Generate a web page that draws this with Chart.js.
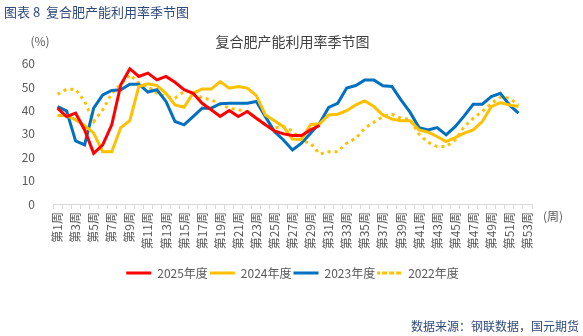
<!DOCTYPE html>
<html>
<head>
<meta charset="utf-8">
<script src="https://cdn.jsdelivr.net/npm/chart.js@4"></script>
<style>
  body { margin: 0; background: #fff; }
  .wrap { position: relative; width: 583px; height: 336px; }
  .head { position: absolute; left: 4px; top: 2px; font: 13px "Noto Sans CJK SC", sans-serif; color: #2E4A7D; }
  .src { position: absolute; right: 4px; top: 317px; font: 12px "Noto Sans CJK SC", sans-serif; color: #2E4A7D; }
  canvas { position: absolute; left: 0; top: 0; }
</style>
</head>
<body>
<div class="wrap">
  <canvas id="chart" width="583" height="336"></canvas>
  <div class="head">图表 8&nbsp;&nbsp;复合肥产能利用率季节图</div>
  <div class="src">数据来源：钢联数据，国元期货</div>
</div>
<script>
const weeks = [
  '第1周', '第2周', '第3周', '第4周', '第5周', '第6周', '第7周', '第8周', '第9周', '第10周',
  '第11周', '第12周', '第13周', '第14周', '第15周', '第16周', '第17周', '第18周', '第19周', '第20周',
  '第21周', '第22周', '第23周', '第24周', '第25周', '第26周', '第27周', '第28周', '第29周', '第30周',
  '第31周', '第32周', '第33周', '第34周', '第35周', '第36周', '第37周', '第38周', '第39周', '第40周',
  '第41周', '第42周', '第43周', '第44周', '第45周', '第46周', '第47周', '第48周', '第49周', '第50周',
  '第51周', '第52周', '第53周'
];

const yr2025 = [
  41.0, 37.4, 38.9, 31.7, 21.7, 25.3, 33.9, 51.0, 57.9, 54.6,
  56.0, 53.1, 54.6, 52.1, 48.9, 47.4, 43.1, 40.3, 37.5, 40.0,
  37.4, 39.6, 36.7, 33.9, 31.3, 30.0, 29.3, 29.3, 31.7, 33.6
];
const yr2024 = [
  37.9, 37.9, 36.0, 33.6, 30.3, 22.4, 22.4, 32.7, 35.7, 50.3,
  51.4, 50.7, 47.4, 42.4, 41.4, 47.4, 49.2, 49.2, 52.4, 49.6,
  50.3, 49.6, 46.4, 38.1, 35.6, 33.1, 27.7, 27.7, 33.9, 34.3,
  38.1, 38.4, 39.9, 42.4, 44.1, 41.7, 38.1, 36.3, 35.6, 35.6,
  31.7, 30.7, 28.9, 26.7, 28.4, 30.3, 31.7, 35.3, 41.7, 43.4,
  42.4, 41.7
];
const yr2023 = [
  41.7, 39.9, 27.0, 25.3, 41.0, 46.7, 48.6, 48.9, 51.3, 51.3,
  47.9, 48.9, 43.9, 35.3, 33.9, 37.4, 41.0, 41.0, 42.9, 43.1,
  43.1, 43.1, 43.9, 37.4, 31.0, 27.4, 23.1, 26.0, 30.3, 34.6,
  41.3, 43.1, 49.6, 50.7, 53.1, 53.1, 50.6, 50.3, 44.6, 39.3,
  32.7, 31.7, 32.7, 29.6, 33.1, 37.7, 42.7, 42.7, 46.0, 47.4,
  42.4, 38.9
];
const yr2022 = [
  47.0, 49.1, 49.1, 43.9, 35.3, 40.3, 47.4, 51.3, 55.3, 51.7,
  50.3, 47.4, 46.0, 45.3, 48.1, 48.1, 45.3, 44.6, 42.7, 41.0,
  40.3, 39.6, 36.7, 33.9, 32.7, 33.1, 31.3, 27.0, 26.0, 21.4,
  22.4, 22.4, 26.0, 28.1, 32.4, 35.0, 37.4, 38.4, 36.7, 36.3,
  29.9, 26.4, 24.6, 24.6, 27.4, 33.1, 36.7, 39.6, 43.1, 45.6,
  45.3, 42.4
];

const yTicks = [0, 10, 20, 30, 40, 50, 60];

Chart.defaults.font.family = '"Noto Sans CJK SC", "Noto Sans", sans-serif';
Chart.defaults.color = '#595959';

// unit captions next to the axes
const unitLabels = {
  id: 'unitLabels',
  afterDraw(chart) {
    const { ctx, chartArea } = chart;
    ctx.save();
    ctx.fillStyle = '#595959';
    ctx.font = '12px "Noto Sans CJK SC", sans-serif';
    ctx.textAlign = 'center';
    ctx.textBaseline = 'middle';
    ctx.fillText('(%)', chartArea.left - 13, chartArea.top - 22);
    ctx.fillText('(周)', chartArea.right + 21, chartArea.bottom + 12);
    ctx.restore();
  }
};

function line(label, data, color, dash) {
  return {
    label: label,
    data: data,
    borderColor: color,
    backgroundColor: color,
    borderWidth: 3,
    borderDash: dash || [],
    pointRadius: 0,
    tension: 0,
    fill: false
  };
}

new Chart(document.getElementById('chart'), {
  type: 'line',
  data: {
    labels: weeks,
    datasets: [
      line('2025年度', yr2025, '#FF0000'),
      line('2024年度', yr2024, '#FFC000'),
      line('2023年度', yr2023, '#0070C0'),
      line('2022年度', yr2022, '#FFC000', [3, 4])
    ]
  },
  options: {
    responsive: false,
    animation: false,
    layout: { padding: { left: 0, right: 51, top: 0, bottom: 47 } },
    plugins: {
      title: {
        display: true,
        fullSize: false,
        text: '复合肥产能利用率季节图',
        color: '#404040',
        font: { size: 14, weight: 'normal' },
        padding: { top: 33, bottom: 14 }
      },
      legend: {
        position: 'bottom',
        fullSize: false,
        labels: {
          // zero-height box so each key is drawn as a (dashed) stroke
          boxWidth: 25,
          boxHeight: 0,
          padding: 2,
          color: '#595959',
          font: { size: 12 }
        }
      },
      tooltip: { enabled: false }
    },
    scales: {
      x: {
        offset: true,
        afterFit: (s) => { s.height = 61; },
        grid: { offset: true, drawOnChartArea: false, drawTicks: true, tickLength: 5, color: '#D9D9D9' },
        border: { color: '#D9D9D9' },
        ticks: {
          autoSkip: false,
          minRotation: 90,
          maxRotation: 90,
          padding: 3,
          font: { size: 12 },
          callback: (v, i) => (i % 2 === 0 ? weeks[i] : '')
        }
      },
      y: {
        min: yTicks[0],
        max: yTicks[yTicks.length - 1],
        afterFit: (s) => { s.width = 53; },
        afterBuildTicks: (s) => { s.ticks = yTicks.map(v => ({ value: v })); },
        grid: { display: false },
        border: { display: false },
        ticks: { padding: 10, font: { size: 12 } }
      }
    }
  },
  plugins: [unitLabels]
});
</script>
</body>
</html>
